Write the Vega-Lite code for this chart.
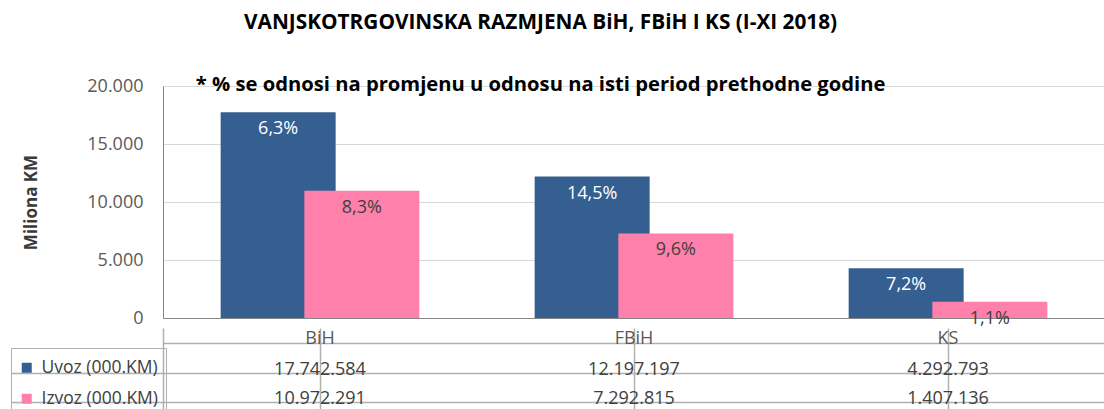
{
  "$schema": "https://vega.github.io/schema/vega-lite/v6.json",
  "padding": {"left": 10, "top": 12, "right": 0, "bottom": 0},
  "config": {
    "locale": {"number": {"decimal": ",", "thousands": ".", "grouping": [3], "currency": ["", ""]}},
    "view": {"stroke": null},
    "font": "Open Sans"
  },
  "title": {
    "text": "VANJSKOTRGOVINSKA RAZMJENA BiH, FBiH I KS (I-XI 2018)",
    "subtitle": "* % se odnosi na promjenu u odnosu na isti period prethodne godine",
    "font": "Open Sans",
    "fontSize": 20.8,
    "fontWeight": "bold",
    "color": "#000000",
    "subtitleFont": "Open Sans",
    "subtitleFontSize": 20.2,
    "subtitleFontWeight": "bold",
    "subtitleColor": "#000000",
    "subtitlePadding": 41,
    "offset": -19,
    "anchor": "middle",
    "dx": -17
  },
  "datasets": {
    "trade": [
      {"region": "BiH", "series": "Uvoz (000.KM)", "value": 17742584, "pct": "6,3%"},
      {"region": "BiH", "series": "Izvoz (000.KM)", "value": 10972291, "pct": "8,3%"},
      {"region": "FBiH", "series": "Uvoz (000.KM)", "value": 12197197, "pct": "14,5%"},
      {"region": "FBiH", "series": "Izvoz (000.KM)", "value": 7292815, "pct": "9,6%"},
      {"region": "KS", "series": "Uvoz (000.KM)", "value": 4292793, "pct": "7,2%"},
      {"region": "KS", "series": "Izvoz (000.KM)", "value": 1407136, "pct": "1,1%"}
    ]
  },
  "spacing": 0,
  "vconcat": [
    {
      "width": 942,
      "height": 232,
      "data": {"name": "trade"},
      "encoding": {
        "x": {
          "field": "region", "type": "nominal", "sort": ["BiH", "FBiH", "KS"],
          "scale": {"paddingInner": 0, "paddingOuter": 0},
          "axis": {"labels": false, "ticks": false, "title": null, "domainColor": "#868686", "domainWidth": 1}
        },
        "xOffset": {
          "field": "series", "type": "nominal", "sort": ["Uvoz (000.KM)", "Izvoz (000.KM)"],
          "scale": {"paddingInner": 0, "paddingOuter": 0.876}
        },
        "y": {
          "field": "value", "type": "quantitative",
          "scale": {"domain": [0, 20000000]},
          "axis": {
            "values": [0, 5000000, 10000000, 15000000, 20000000],
            "labelExpr": "format(datum.value / 1000, ',d')",
            "title": "Miliona KM",
            "titleFontSize": 17,
            "titleFontWeight": "bold",
            "titleColor": "#3A3A3A",
            "titlePadding": 46,
            "labelFontSize": 18,
            "labelColor": "#595959",
            "labelPadding": 20,
            "ticks": false,
            "tickSize": 0,
            "domainColor": "#868686",
            "gridColor": "#D9D9D9",
            "gridWidth": 1
          }
        }
      },
      "layer": [
        {
          "mark": {"type": "bar", "width": 115},
          "encoding": {
            "color": {
              "field": "series", "type": "nominal",
              "scale": {"domain": ["Uvoz (000.KM)", "Izvoz (000.KM)"], "range": ["#365F91", "#FF80AB"]},
              "legend": {
                "orient": "none", "legendX": -152, "legendY": 262,
                "title": " ", "titleFontSize": 2, "titlePadding": 2,
                "symbolType": "square", "symbolSize": 100, "symbolStrokeWidth": 0,
                "labelFontSize": 17.5, "labelColor": "#404040", "labelOffset": 6,
                "rowPadding": 12, "padding": 7, "strokeColor": "#B0B0B0", "direction": "vertical"
              }
            }
          }
        },
        {
          "mark": {"type": "text", "fontSize": 18, "baseline": "middle", "dy": 17},
          "encoding": {
            "text": {"field": "pct"},
            "color": {"condition": {"test": "datum.series === 'Uvoz (000.KM)'", "value": "#FFFFFF"}, "value": "#404040"}
          }
        }
      ]
    },
    {
      "width": 942,
      "height": 89,
      "data": {"name": "trade"},
      "encoding": {
        "x": {
          "field": "region", "type": "nominal", "sort": ["BiH", "FBiH", "KS"],
          "scale": {"paddingInner": 0, "paddingOuter": 0},
          "axis": {"labels": false, "ticks": false, "domain": false, "title": null, "grid": true, "bandPosition": 0, "gridColor": "#B0B0B0", "gridWidth": 1.5}
        }
      },
      "layer": [
        {
          "transform": [{"filter": "datum.series === 'Uvoz (000.KM)'"}],
          "mark": {"type": "text", "fontSize": 18, "color": "#595959", "baseline": "middle", "dy": -4},
          "encoding": {
            "y": {
              "datum": "hdr", "type": "nominal",
              "scale": {"domain": ["hdr", "Uvoz (000.KM)", "Izvoz (000.KM)"], "paddingInner": 0, "paddingOuter": 0},
              "axis": {
                "title": null, "labels": false, "ticks": true, "tickSize": 152, "tickColor": "#B0B0B0", "tickWidth": 1.5,
                "tickOpacity": {"condition": {"test": "datum.value === 'hdr'", "value": 0}, "value": 1},
                "bandPosition": 0, "grid": true, "gridColor": "#B0B0B0", "gridWidth": 1.5,
                "domain": true, "domainColor": "#B0B0B0", "domainWidth": 1.5
              }
            },
            "text": {"field": "region"}
          }
        },
        {
          "mark": {"type": "text", "fontSize": 18, "color": "#404040", "baseline": "middle", "dy": -3},
          "encoding": {
            "y": {
              "field": "series", "type": "nominal",
              "scale": {"domain": ["hdr", "Uvoz (000.KM)", "Izvoz (000.KM)"], "paddingInner": 0, "paddingOuter": 0}
            },
            "text": {"field": "value", "type": "quantitative", "format": ",d"}
          }
        }
      ]
    }
  ]
}
